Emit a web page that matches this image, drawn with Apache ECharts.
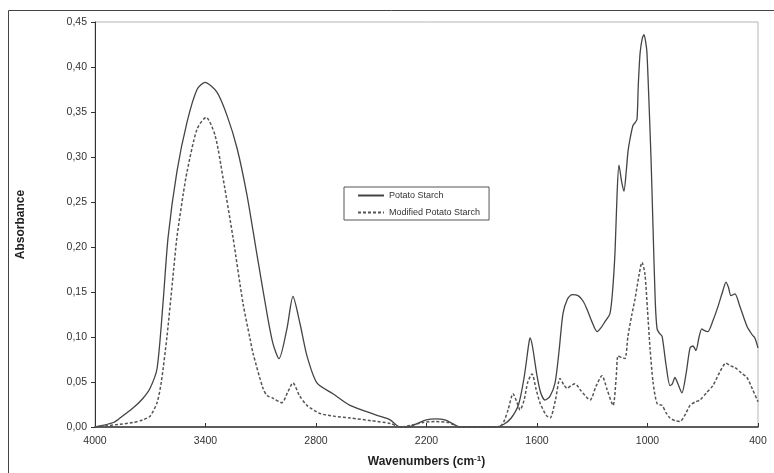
<!DOCTYPE html>
<html>
<head>
<meta charset="utf-8">
<script src="https://cdn.jsdelivr.net/npm/echarts@6/dist/echarts.min.js"></script>
<style>html,body{margin:0;padding:0;background:#fff}#c{width:774px;height:473px}</style>
</head>
<body>
<div id="c"></div>
<script>
// Tick labels
var xTicks = [4000, 3400, 2800, 2200, 1600, 1000, 400];
var seriesNames = ['Potato Starch', 'Modified Potato Starch'];

// Potato Starch (solid)
var wnSolid = [4000,3900,3864,3794,3739,3701,3663,3631,3603,3555,3500,3446,3403,3338,3283,3229,3175,3121,3066,3034,3001,2958,2925,2887,2849,2795,2708,2615,2469,2398,2344,2300,2250,2200,2150,2100,2060,2020,1900,1820,1780,1740,1700,1670,1645,1638,1625,1600,1580,1557,1530,1502,1480,1459,1435,1410,1377,1350,1329,1300,1274,1250,1231,1204,1190,1176,1165,1155,1140,1128,1115,1106,1095,1079,1068,1057,1050,1040,1028,1019,1010,1003,992,981,970,958,948,935,921,900,878,865,851,835,813,790,769,753,737,720,705,690,672,645,617,590,574,560,547,525,500,460,430,417,400];
var absSolid = [0.000,0.005,0.010,0.021,0.032,0.043,0.065,0.137,0.211,0.284,0.339,0.375,0.383,0.372,0.346,0.310,0.258,0.192,0.126,0.093,0.076,0.109,0.145,0.115,0.079,0.049,0.037,0.024,0.013,0.008,0.000,0.000,0.004,0.008,0.009,0.008,0.004,0.000,0.000,0.000,0.003,0.010,0.025,0.055,0.092,0.099,0.090,0.057,0.038,0.030,0.034,0.049,0.085,0.126,0.142,0.147,0.146,0.140,0.131,0.116,0.106,0.111,0.117,0.126,0.150,0.196,0.260,0.291,0.272,0.262,0.285,0.306,0.320,0.335,0.338,0.342,0.380,0.416,0.432,0.436,0.428,0.416,0.361,0.299,0.222,0.140,0.109,0.104,0.101,0.070,0.046,0.048,0.055,0.048,0.038,0.060,0.088,0.090,0.085,0.100,0.109,0.107,0.106,0.118,0.134,0.152,0.161,0.155,0.146,0.148,0.135,0.112,0.102,0.099,0.088];

// Modified Potato Starch (dashed)
var wnMod = [4000,3864,3794,3740,3701,3663,3640,3609,3580,3555,3520,3500,3446,3397,3348,3305,3251,3196,3158,3142,3088,3066,3034,2985,2955,2925,2890,2849,2778,2700,2615,2500,2398,2340,2280,2219,2150,2080,2020,1900,1800,1780,1757,1730,1710,1692,1670,1650,1627,1605,1584,1550,1529,1500,1475,1455,1437,1415,1394,1360,1312,1280,1247,1220,1187,1170,1160,1140,1122,1106,1085,1068,1045,1030,1014,1000,986,970,948,921,900,878,850,824,800,769,740,715,680,645,610,574,550,525,490,460,430,400];
var absMod = [0.000,0.003,0.005,0.008,0.012,0.027,0.050,0.101,0.160,0.211,0.260,0.284,0.331,0.344,0.324,0.277,0.211,0.137,0.098,0.082,0.043,0.035,0.032,0.027,0.038,0.049,0.035,0.024,0.015,0.012,0.010,0.007,0.004,0.000,0.002,0.005,0.006,0.005,0.000,0.000,0.001,0.006,0.019,0.037,0.028,0.019,0.030,0.050,0.059,0.042,0.027,0.013,0.010,0.030,0.054,0.047,0.043,0.046,0.048,0.040,0.030,0.045,0.057,0.042,0.024,0.055,0.079,0.077,0.076,0.101,0.125,0.142,0.170,0.183,0.170,0.130,0.087,0.050,0.026,0.024,0.016,0.010,0.007,0.006,0.012,0.024,0.028,0.030,0.038,0.046,0.060,0.071,0.068,0.066,0.060,0.055,0.042,0.028];

function zip(a, b) { return a.map(function (v, i) { return [v, b[i]]; }); }

var chart = echarts.init(document.getElementById('c'), null, { renderer: 'canvas' });
var fontFam = 'Liberation Sans, Arial, sans-serif';
chart.setOption({
  animation: false,
  backgroundColor: '#fff',
  textStyle: { fontFamily: fontFam },
  graphic: [{
    type: 'rect', shape: { x: 8.5, y: 10.5, width: 800, height: 500 },
    style: { fill: 'none', stroke: '#444', lineWidth: 1 }, z: -1, silent: true
  }],
  grid: { left: 95, right: 16, top: 22, bottom: 41, show: true, borderColor: '#b5b5b5', borderWidth: 1 },
  legend: {
    left: 344, top: 187, orient: 'vertical',
    borderColor: '#555', borderWidth: 1, borderRadius: 0,
    padding: [4, 9, 3, 13], itemGap: 8, itemWidth: 26, itemHeight: 10,
    itemStyle: { color: 'rgba(0,0,0,0)', borderWidth: 0, opacity: 0 },
    textStyle: { fontSize: 9, color: '#333', fontFamily: fontFam },
    data: seriesNames
  },
  xAxis: {
    type: 'value', min: 400, max: 4000, inverse: true,
    name: 'Wavenumbers (cm{sup|-1})',
    nameLocation: 'middle', nameGap: 28,
    nameTextStyle: {
      fontSize: 12, fontWeight: 'bold', color: '#222', fontFamily: fontFam,
      rich: { sup: { fontSize: 8, fontWeight: 'bold', color: '#222', verticalAlign: 'top', padding: [0, 0, 6, 0] } }
    },
    axisLine: { lineStyle: { color: '#333', width: 1.5 } },
    axisTick: { inside: true, length: 4, customValues: xTicks, lineStyle: { color: '#333' } },
    axisLabel: { customValues: xTicks, fontSize: 10.5, color: '#333', margin: 9, formatter: function (v) { return String(v); } },
    splitLine: { show: false }
  },
  yAxis: {
    type: 'value', min: 0, max: 0.45, interval: 0.05,
    name: 'Absorbance', nameLocation: 'middle', nameGap: 68, nameRotate: 90,
    nameTextStyle: { fontSize: 12, fontWeight: 'bold', color: '#222', fontFamily: fontFam },
    axisLine: { show: true, lineStyle: { color: '#333', width: 1 } },
    axisTick: { show: true, inside: false, length: 4, lineStyle: { color: '#333' } },
    axisLabel: { fontSize: 10.5, color: '#333', margin: 8, formatter: function (v) { return v.toFixed(2).replace('.', ','); } },
    splitLine: { show: false }
  },
  series: [
    {
      name: seriesNames[0], type: 'line', data: zip(wnSolid, absSolid),
      smooth: 0.25, symbol: 'none',
      lineStyle: { color: '#444', width: 1.3, type: 'solid' },
      itemStyle: { color: '#444' }
    },
    {
      name: seriesNames[1], type: 'line', data: zip(wnMod, absMod),
      smooth: 0.25, symbol: 'none',
      lineStyle: { color: '#555', width: 1.5, type: [3, 2] },
      itemStyle: { color: '#555' }
    }
  ]
});
</script>
</body>
</html>
